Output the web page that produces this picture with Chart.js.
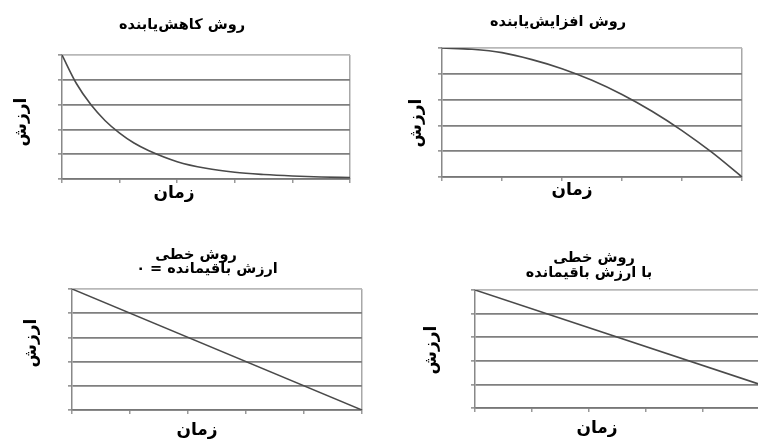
<!DOCTYPE html>
<html lang="fa">
<head>
<meta charset="utf-8">
<script src="https://cdn.jsdelivr.net/npm/chart.js@4"></script>
<style>
    html, body { margin: 0; padding: 0; background: #fff; }
    #page { position: relative; width: 758px; height: 442px; overflow: hidden; background: #fff; }
    #page canvas { position: absolute; }
</style>
</head>
<body>
<div id="page">
    <canvas id="declining" width="379" height="221" style="left:0;top:0"></canvas>
    <canvas id="increasing" width="379" height="221" style="left:379px;top:0"></canvas>
    <canvas id="linearZero" width="379" height="221" style="left:0;top:221px"></canvas>
    <canvas id="linearSalvage" width="383" height="221" style="left:379px;top:221px"></canvas>
</div>
<script>
// grid steps on both axes (no labels are printed)
const timeTicks = [0, 1, 2, 3, 4, 5];
const valueTicks = [0, 1, 2, 3, 4, 5];

// declining balance curve
const decliningTime = [0, 0.25, 0.5, 0.75, 1, 1.25, 1.5, 2, 2.5, 3, 3.5, 4, 4.5, 5];
const decliningValue = [5, 3.85, 3.0, 2.35, 1.85, 1.45, 1.15, 0.7, 0.43, 0.27, 0.18, 0.12, 0.08, 0.06];

// increasing rate curve
const increasingTime = [0, 0.5, 1, 1.5, 2, 2.5, 3, 3.5, 4, 4.5, 5];
const increasingValue = [5, 4.95, 4.82, 4.55, 4.2, 3.75, 3.2, 2.55, 1.8, 0.95, 0];

// straight line, zero salvage / with salvage
const linearTime = [0, 5];
const zeroSalvageValue = [5, 0];
const withSalvageValue = [5, 1];

const FONT = '"DejaVu Sans", sans-serif';

// draws titles and axis captions at fixed spots of the canvas
const captions = {
    id: 'captions',
    afterDraw(chart, args, opts) {
        const ctx = chart.ctx;
        ctx.save();
        ctx.fillStyle = '#000';
        ctx.textAlign = 'center';
        ctx.textBaseline = 'middle';
        ctx.direction = 'rtl';
        for (const c of opts.items || []) {
            ctx.save();
            ctx.font = `bold ${c.size}px ${FONT}`;
            ctx.translate(c.x, c.y);
            if (c.rotate) ctx.rotate(-Math.PI / 2);
            ctx.fillText(c.text, 0, 0);
            ctx.restore();
        }
        ctx.restore();
    }
};

function makeChart(id, xs, ys, padding, items, smooth) {
    const points = xs.map((x, i) => ({ x: x, y: ys[i] }));
    return new Chart(document.getElementById(id), {
        type: 'line',
        data: {
            datasets: [{
                data: points,
                borderColor: '#4a4a4a',
                borderWidth: 1.6,
                pointRadius: 0,
                fill: false,
                cubicInterpolationMode: smooth ? 'monotone' : 'default',
                tension: 0
            }]
        },
        options: {
            responsive: false,
            animation: false,
            events: [],
            layout: { padding: padding, autoPadding: false },
            plugins: {
                legend: { display: false },
                tooltip: { enabled: false },
                title: { display: false },
                captions: { items: items }
            },
            scales: {
                x: {
                    type: 'linear',
                    min: 0,
                    max: 5,
                    afterBuildTicks: s => { s.ticks = timeTicks.map(v => ({ value: v })); },
                    afterFit: s => { s.height = 4; },
                    ticks: { display: false },
                    grid: {
                        color: c => c.tick && c.tick.value === 5 ? '#a8a8a8' : 'rgba(0,0,0,0)',
                        tickColor: '#999',
                        tickLength: 4,
                        lineWidth: 1.5
                    },
                    border: { color: '#777', width: 1.5 }
                },
                y: {
                    min: 0,
                    max: 5,
                    afterBuildTicks: s => { s.ticks = valueTicks.map(v => ({ value: v })); },
                    afterFit: s => { s.width = 4; },
                    ticks: { display: false },
                    grid: {
                        color: c => c.tick && c.tick.value === 5 ? '#b8b8b8' : '#7f7f7f',
                        tickColor: '#999',
                        tickLength: 4,
                        lineWidth: 1.7
                    },
                    border: { color: '#888', width: 1.5 }
                }
            }
        },
        plugins: [captions]
    });
}

makeChart('declining', decliningTime, decliningValue,
    { left: 58, top: 55, right: 29, bottom: 38 },
    [
        { text: 'روش کاهش‌یابنده', x: 182, y: 25, size: 14.5 },
        { text: 'زمان', x: 174, y: 194, size: 17 },
        { text: 'ارزش', x: 22, y: 122, size: 17, rotate: true }
    ], true);

makeChart('increasing', increasingTime, increasingValue,
    { left: 59, top: 48, right: 16, bottom: 40 },
    [
        { text: 'روش افزایش‌یابنده', x: 179, y: 22, size: 14.5 },
        { text: 'زمان', x: 193, y: 191, size: 17 },
        { text: 'ارزش', x: 38, y: 123, size: 17, rotate: true }
    ], true);

makeChart('linearZero', linearTime, zeroSalvageValue,
    { left: 68, top: 68, right: 17, bottom: 28 },
    [
        { text: 'روش خطی', x: 196, y: 34, size: 14.5 },
        { text: 'ارزش باقیمانده = ۰', x: 207, y: 48, size: 14.5 },
        { text: 'زمان', x: 197, y: 210, size: 17 },
        { text: 'ارزش', x: 32, y: 122, size: 17, rotate: true }
    ], false);

makeChart('linearSalvage', linearTime, withSalvageValue,
    { left: 92, top: 69, right: 2, bottom: 30 },
    [
        { text: 'روش خطی', x: 215, y: 37, size: 14.5 },
        { text: 'با ارزش باقیمانده', x: 210, y: 52, size: 14.5 },
        { text: 'زمان', x: 218, y: 208, size: 17 },
        { text: 'ارزش', x: 53, y: 129, size: 17, rotate: true }
    ], false);
</script>
</body>
</html>
